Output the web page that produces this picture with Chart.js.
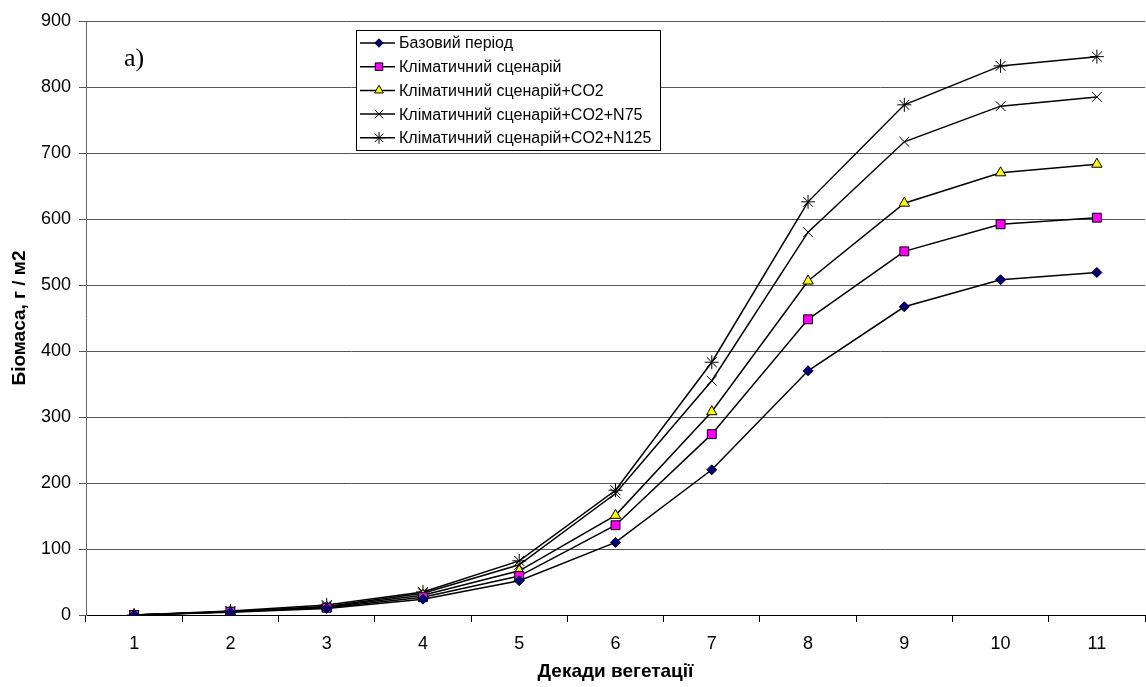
<!DOCTYPE html>
<html>
<head>
<meta charset="utf-8">
<script src="https://cdn.jsdelivr.net/npm/chart.js@4/dist/chart.umd.min.js"></script>
<style>
  body { margin: 0; background: #fff; overflow: hidden; }
  canvas { display: block; }
</style>
</head>
<body>
<canvas id="biomass-canvas" width="1146" height="687"></canvas>
<script>
// Дані
const decades = ['1', '2', '3', '4', '5', '6', '7', '8', '9', '10', '11'];
const basePeriod = [0, 4, 10, 24, 52, 110, 220, 370, 467, 508, 519];
const climateScenario = [0, 5, 11, 27, 59, 136, 274, 448, 551, 592, 602];
const climateCO2 = [0, 5, 12, 30, 67, 151, 308, 506, 624, 670, 683];
const climateCO2N75 = [0, 5, 13, 33, 76, 184, 355, 580, 717, 771, 785];
const climateCO2N125 = [0, 6, 15, 35, 82, 189, 383, 626, 773, 832, 846];
const seriesNames = [
    'Базовий період',
    'Кліматичний сценарій',
    'Кліматичний сценарій+CO2',
    'Кліматичний сценарій+CO2+N75',
    'Кліматичний сценарій+CO2+N125'
];
const yTicks = [0, 100, 200, 300, 400, 500, 600, 700, 800, 900];

const ctx = document.getElementById('biomass-canvas').getContext('2d');
const font = 'Liberation Sans, Arial, sans-serif';

function makeSet(label, data, style, fill, radius) {
    return {
        label: label,
        data: data,
        borderColor: '#000',
        borderWidth: 1.5,
        pointStyle: style,
        pointRadius: radius,
        pointHoverRadius: radius,
        pointBackgroundColor: fill,
        pointBorderColor: '#000',
        pointBorderWidth: 1,
        tension: 0,
        fill: false
    };
}

// легенда у рамці та напис "а)"
const boxLegend = {
    id: 'boxLegend',
    afterDraw(chart) {
        const c = chart.ctx;
        const x0 = 356, y0 = 30, w = 304, h = 120;
        c.save();
        c.fillStyle = '#fff';
        c.fillRect(x0, y0, w, h);
        c.strokeStyle = '#000';
        c.lineWidth = 1;
        c.strokeRect(x0 + 0.5, y0 + 0.5, w, h);
        c.font = '16px ' + font;
        c.textBaseline = 'middle';
        chart.data.datasets.forEach((ds, i) => {
            const y = y0 + 13 + i * 23.7;
            c.strokeStyle = '#000';
            c.lineWidth = 1.5;
            c.beginPath();
            c.moveTo(x0 + 4, y);
            c.lineTo(x0 + 39, y);
            c.stroke();
            c.fillStyle = ds.pointBackgroundColor;
            c.strokeStyle = '#000';
            c.lineWidth = 1;
            Chart.helpers.drawPoint(c, {
                pointStyle: ds.pointStyle,
                radius: ds.pointRadius * 0.85,
                borderWidth: 1
            }, x0 + 23, y);
            c.fillStyle = '#000';
            c.fillText(ds.label, x0 + 43, y + 1);
        });
        c.font = '26px Liberation Serif, Times New Roman, serif';
        c.fillStyle = '#000';
        c.fillText('a)', 124, 59);
        c.restore();
    }
};

function noPad(scale) {
    scale.paddingLeft = 0;
    scale.paddingRight = 0;
}

const chart = new Chart(ctx, {
    type: 'line',
    data: {
        labels: decades,
        datasets: [
            makeSet(seriesNames[0], basePeriod, 'rectRot', '#000080', 5),
            makeSet(seriesNames[1], climateScenario, 'rect', '#ff00ff', 6.3),
            makeSet(seriesNames[2], climateCO2, 'triangle', '#ffff00', 6),
            makeSet(seriesNames[3], climateCO2N75, 'crossRot', '#000', 7),
            makeSet(seriesNames[4], climateCO2N125, 'star', '#000', 7)
        ]
    },
    options: {
        responsive: false,
        animation: false,
        layout: {
            autoPadding: false,
            padding: { top: 21, right: 1, left: 0, bottom: 0 }
        },
        plugins: {
            legend: { display: false },
            tooltip: { enabled: false }
        },
        scales: {
            x: {
                offset: true,
                grid: {
                    offset: true,
                    drawOnChartArea: false,
                    color: '#000',
                    tickLength: 7
                },
                border: { color: '#000', width: 1 },
                ticks: {
                    color: '#000',
                    font: { family: font, size: 18 },
                    padding: 11,
                    maxRotation: 0
                },
                title: {
                    display: true,
                    text: 'Декади вегетації',
                    color: '#000',
                    font: { family: font, size: 19, weight: 'bold' },
                    padding: { top: 4 }
                },
                afterFit(scale) {
                    scale.height = 72;
                    noPad(scale);
                }
            },
            y: {
                min: 0,
                max: 900,
                afterBuildTicks(scale) { scale.ticks = yTicks.map(v => ({ value: v })); },
                grid: {
                    color: '#555',
                    lineWidth: 1,
                    tickLength: 7
                },
                border: { color: '#666', width: 1 },
                ticks: {
                    color: '#000',
                    font: { family: font, size: 18 },
                    padding: 8
                },
                title: {
                    display: true,
                    text: 'Біомаса, г / м2',
                    color: '#000',
                    font: { family: font, size: 19, weight: 'bold' },
                    padding: { top: 8, bottom: 0 }
                },
                afterFit(scale) {
                    scale.width = 86;
                    noPad(scale);
                }
            }
        }
    },
    plugins: [boxLegend]
});
</script>
</body>
</html>
